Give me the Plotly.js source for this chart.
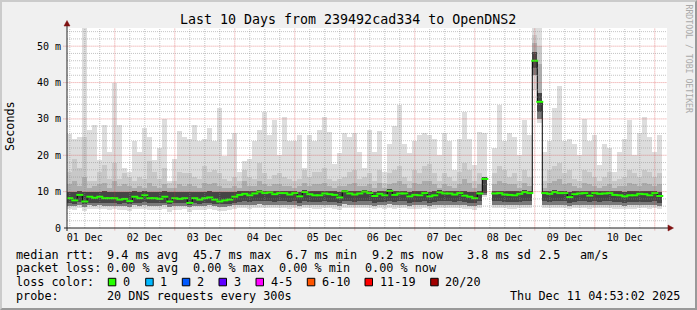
<!DOCTYPE html>
<html>
<head>
<meta charset="utf-8">
<script src="https://cdn.plot.ly/plotly-3.0.1.min.js"></script>
<style>
html,body{margin:0;padding:0;background:#f0f0f0;}
#wrap{position:relative;width:697px;height:310px;overflow:hidden;}
#chart{position:absolute;left:0;top:0;width:697px;height:310px;}
#frame{position:absolute;left:0;top:0;width:697px;height:310px;box-sizing:border-box;
  border-top:2px solid #cbcbcb;border-left:2px solid #cbcbcb;border-right:2px solid #999;border-bottom:2px solid #999;pointer-events:none;}
</style>
</head>
<body>
<div id="wrap"><div id="chart"></div><div id="frame"></div></div>
<script>
// ---------------- data (ms), 2-hour bins from 2025-12-01 06:00 ----------------
const firstBin = Date.UTC(2025, 11, 1, 6, 0, 0);
const binHours = 2;

const maxPing = [25.8,24.4,24.9,55,27,28.3,18.7,28.3,21,40,28.3,16.5,15.5,24,21,27.4,25,18.7,22,30,13,19,26.6,25,24.5,28.3,24,24.5,27.5,
 24,33,19.7,24.6,26,15.5,18.3,19,24,27,31.8,25.5,29.7,20,30.5,24,24,25.5,16.5,25.5,24,27,30.5,26.5,17.5,20.5,26,25,26,21,
 16.5,27,21,26.8,15.5,23,28,33.7,23,20.5,24,25.5,26,25.5,24.6,20,26,24,16,24.6,32,24.6,17.3,26.5,26,null,22,33.7,24,
 26,25,20,29.8,25.5,55,55,21,24,33,39,24,24.6,23,20,30,24,25.5,17.3,23,22,15.5,20.8,24.6,29.8,20,26,30.5,25,21,25.5];

const p19 = [15.5,19,16.5,25,13,13,15.5,17.3,13.5,18,13.5,15,14,13,14,13.5,18.3,15.5,13.5,16.5,12.5,13,15.5,15,15,14,13.5,17,15.5,
 16,15,13.5,13,14,13,16,14,13.5,18,15,13.5,14.5,15,14,13.5,13,13.5,16,14,15.5,15.5,16.5,13.5,13,13.5,14,15.5,16,13.5,
 14,15,13,16,12.5,15,16,17,14,13,16,15,17,17.5,15,13,15,14,13,15.5,18,16,13,15,14,null,15,17,16,
 14,15,13,16,14,53,50,13,16,17,18,15,16,13.5,13,16,15.5,14,13,14,15.5,13,13.5,14,16,15,14,16,15.5,14,15];

const p17 = [12,13,11.5,14,11,11.5,12,12.5,11,13,11.5,12,11.5,11,11.5,11,12.5,11.5,11,12,11,11,12,11.5,12,11.5,11,12.5,12,
 12.5,11.5,11,11,11.5,11,13,11.5,11.5,13,12,11.5,12,12,11.5,11.5,11,11.5,12.5,11.5,12,12,12.5,11.5,11,11.5,11.5,12,12.5,11.5,
 11.5,12,11,12.5,11,12,12.5,13,12,11,12.5,12,13,13,12,11,12,11.5,11,12,13.5,12.5,11,12,14,null,12,13,12.5,
 12,12,11,12.5,11.5,51,45,11,12.5,13,13.5,12,12.5,11.5,11,12.5,12,11.5,11,11.5,12,11,11.5,11.5,12.5,12,11.5,12.5,12,11.5,12];

const highDark = [10,9.9,10.1,10,10,9.9,10,10.1,10,9.9,10,10,9.8,10.1,10,10.1,10,9.9,10,10.1,9.8,10,9.9,10,9.8,10,9.9,10,10.1,
 10,9.8,9.9,10,10,10.1,10.2,10.1,10.2,10.4,10.2,10.3,10.1,10.2,10.2,10.1,10.2,10,10.4,10.2,10.1,10.1,10.2,10.2,10.1,10,10.5,10.2,10.1,10.2,
 10.5,10.2,10,10.2,10.1,10.6,10.1,10.2,10.2,10,10.1,10.1,10.3,10,10.1,10.4,10.2,10.2,10.1,10.3,10.1,10,9.9,10.2,14,null,10.2,10.3,10.1,
 10.1,10.1,10.2,10.4,10.3,48.5,37,10.3,10.2,10.4,10.3,10.3,10,10.2,10.2,10.3,10.1,10.3,10.2,10.2,10.3,10.1,10.1,10,10.1,10.1,10.2,10.2,10.1,10.3,10];

const medianRtt = [8.2,7.6,9.1,7.3,8.6,8.3,8.6,8.2,8.2,8.2,7.8,8.0,7.4,8.6,8.2,9.0,8.2,8.2,8.0,8.6,7.3,8.2,8.0,8.2,6.9,8.2,7.8,8.2,8.4,
 7.8,7.3,7.6,7.8,8.6,9.1,9.4,9.0,9.5,10.0,9.6,9.8,9.3,9.6,9.6,9.2,9.6,8.7,9.9,9.3,9.0,9.0,9.5,9.3,9.1,8.4,10.1,9.5,9.2,9.5,
 10.0,9.6,8.8,9.4,9.0,10.2,9.1,9.5,9.5,8.7,9.1,9.0,9.6,8.7,9.0,9.8,9.5,9.5,9.2,9.6,8.9,8.6,8.2,9.5,13.5,null,9.5,9.6,9.2,
 9.1,9.0,9.4,9.9,9.6,46.0,34.7,9.6,9.4,9.9,9.6,9.6,8.5,9.3,9.5,9.6,8.9,9.6,9.4,9.5,9.6,9.1,9.0,8.7,9.0,9.0,9.4,9.3,9.0,9.6,8.8];

const coreLow = [6.9,6.7,7.2,6.6,7,6.9,7,6.9,6.8,6.9,6.7,6.8,6.5,7,6.9,7.1,6.9,6.8,6.8,7,6.5,6.8,6.8,6.9,6.3,6.9,6.7,6.9,7,
 6.7,6.5,6.6,6.7,7,7.2,7.3,7.1,7.3,7.5,7.3,7.4,7.2,7.3,7.3,7.2,7.3,7,7.4,7.2,7.1,7.1,7.3,7.2,7.1,6.9,7.5,7.3,7.2,7.3,
 7.4,7.3,7,7.2,7.1,7.5,7.1,7.3,7.3,7,7.1,7.1,7.3,7,7.1,7.4,7.3,7.3,7.2,7.3,7.1,7,6.8,7.3,9.5,null,7.3,7.3,7.2,
 7.1,7.1,7.2,7.4,7.3,44,32,7.3,7.2,7.4,7.3,7.3,6.9,7.2,7.3,7.3,7.1,7.3,7.2,7.3,7.3,7.1,7.1,7,7.1,7.1,7.2,7.2,7.1,7.3,7];

const lowDark = [6.1,6,6.3,5.9,6.2,6.1,6.2,6.1,6,6.1,6,6,5.8,6.2,6.1,6.2,6.1,6,6,6.2,5.8,6,6,6.1,5.7,6.1,6,6.1,6.2,
 6,5.8,5.9,6,6.2,6.3,6.4,6.2,6.4,6.5,6.4,6.4,6.3,6.3,6.4,6.3,6.4,6.1,6.4,6.3,6.2,6.2,6.4,6.3,6.2,6,6.5,6.4,6.3,6.4,
 6.4,6.3,6.1,6.3,6.2,6.5,6.2,6.4,6.4,6.1,6.2,6.2,6.4,6.1,6.2,6.4,6.4,6.3,6.3,6.4,6.2,6.1,6,6.3,9,null,6.3,6.4,6.3,
 6.2,6.2,6.3,6.4,6.3,42,30,6.3,6.3,6.4,6.3,6.3,6,6.3,6.3,6.4,6.2,6.4,6.3,6.3,6.4,6.2,6.2,6.1,6.2,6.2,6.3,6.3,6.2,6.4,6.1];

const minPing = [5.2,5,5.4,4.8,5.3,5.1,5.2,5.1,4.9,5.1,5,4.9,4.6,5.2,5.1,5.3,5,5,4.9,5.2,4.5,4.9,4.9,5.1,4.4,5,4.9,5,5.2,
 4.9,4.6,4.7,4.9,5.2,5.4,5.5,5.3,5.5,5.6,5.5,5.5,5.4,5.4,5.5,5.3,5.5,5.1,5.5,5.4,5.3,5.3,5.5,5.4,5.2,5,5.6,5.5,5.4,5.5,
 5.5,5.4,5.2,5.4,5.3,5.6,5.3,5.5,5.5,5.1,5.3,5.3,5.5,5.1,5.3,5.5,5.5,5.4,5.4,5.5,5.3,5.2,5,5.4,8.5,null,5.4,5.5,5.4,
 5.3,5.3,5.4,5.5,5.4,38,29,5.4,5.4,5.5,5.4,5.4,5.1,5.4,5.4,5.5,5.3,5.5,5.4,5.4,5.5,5.3,5.3,5.2,5.3,5.3,5.4,5.4,5.3,5.5,5.2];

const dayLabels = ['01 Dec','02 Dec','03 Dec','04 Dec','05 Dec','06 Dec','07 Dec','08 Dec','09 Dec','10 Dec'];
const yTickVals = [0,10,20,30,40,50];
const yTickText = ['0','10 m','20 m','30 m','40 m','50 m'];

const titleText = 'Last 10 Days from 239492cad334 to OpenDNS2';
const statRtt = ['median rtt:','9.4 ms avg','45.7 ms max','6.7 ms min','9.2 ms now','3.8 ms sd','2.5','am/s'];
const statLoss = ['packet loss:','0.00 % avg','0.00 % max','0.00 % min','0.00 % now'];
const lossLabels = ['0','1','2','3','4-5','6-10','11-19','20/20'];
const lossColors = ['#26ff00','#00b8ff','#0059ff','#5e00ff','#ff00ff','#ff5500','#ff0000','#a10000'];
const probeText = ['probe:','20 DNS requests every 300s'];
const stampText = 'Thu Dec 11 04:53:02 2025';

// ---------------- helpers ----------------
const p2 = n => String(n).padStart(2,'0');
function fmt(ms){const d=new Date(ms);return d.getUTCFullYear()+'-'+p2(d.getUTCMonth()+1)+'-'+p2(d.getUTCDate())+' '+p2(d.getUTCHours())+':'+p2(d.getUTCMinutes())+':'+p2(d.getUTCSeconds());}
const binMs = binHours*3600000;
const binTimes = medianRtt.map((_,i)=>fmt(firstBin + i*binMs));
const tStart = Date.UTC(2025,11,1,4,53,2), tEnd = Date.UTC(2025,11,11,4,53,2);
const labelTimes = dayLabels.map((_,i)=>fmt(Date.UTC(2025,11,1+i,12,0,0)));

// plot area in pixels
const L=67, R=667, T=28, B=228;
const PX = px => (px-L)/(R-L);
const PY = py => (B-py)/(B-T);
const FONT = 'DejaVu Sans Mono, monospace';

function band(lo, hi, color){
  return {type:'bar', x:binTimes, base:lo,
    y:hi.map((h,i)=>(h==null||lo[i]==null)?null:+(h-lo[i]).toFixed(3)),
    width:binMs, marker:{color:color, line:{width:0}}, hoverinfo:'skip', showlegend:false};
}

const traces = [
  band(minPing, maxPing, '#dddddd'),
  band(lowDark, p19, '#c8c8c8'),
  band(lowDark, p17, '#acacac'),
  band(lowDark, highDark, '#7a7a7a'),
  band(coreLow, highDark, '#454545'),
  {type:'scatter', mode:'lines', x:binTimes, y:medianRtt, line:{color:'#000000', width:1, shape:'hvh'}, hoverinfo:'skip', showlegend:false},
  {type:'scatter', mode:'markers', x:binTimes, y:medianRtt,
   marker:{symbol:'line-ew', size:5, color:'#26ff00', line:{color:'#26ff00', width:2}}, hoverinfo:'skip', showlegend:false}
];

// ---------------- grid, axes, arrows (drawn above like rrdtool) ----------------
const shapes = [];
const minorCol = 'rgba(140,140,140,0.5)', majorCol = 'rgba(215,60,60,0.5)';
for (let t = Date.UTC(2025,11,1,6); t < tEnd; t += 6*3600000) {
  const major = new Date(t).getUTCHours() === 0;
  shapes.push({type:'line', layer:'above', xref:'x', yref:'paper', x0:fmt(t), x1:fmt(t), y0: major?-0.012:0, y1:1,
    line:{color: major?majorCol:minorCol, width:1, dash:'1px,1px'}});
}
for (let v = 2; v <= 54; v += 2) {
  const major = v % 10 === 0;
  shapes.push({type:'line', layer:'above', xref:'paper', yref:'y', x0: major?-0.006:0, x1:1, y0:v, y1:v,
    line:{color: major?majorCol:minorCol, width:1, dash:'1px,1px'}});
}
// axes
shapes.push({type:'line', layer:'above', xref:'paper', yref:'paper', x0:PX(64), x1:PX(669), y0:0, y1:0, line:{color:'#222', width:1}});
shapes.push({type:'line', layer:'above', xref:'paper', yref:'paper', x0:0, x1:0, y0:PY(231), y1:PY(25), line:{color:'#222', width:1}});
// arrows
shapes.push({type:'path', layer:'above', xref:'paper', yref:'paper',
  path:`M ${PX(668)} ${PY(225)} L ${PX(673.5)} ${PY(228)} L ${PX(668)} ${PY(231)} Z`, fillcolor:'#7f1010', line:{color:'#7f1010', width:0.5}});
shapes.push({type:'path', layer:'above', xref:'paper', yref:'paper',
  path:`M ${PX(64)} ${PY(26)} L ${PX(67)} ${PY(20.5)} L ${PX(70)} ${PY(26)} Z`, fillcolor:'#7f1010', line:{color:'#7f1010', width:0.5}});

// ---------------- texts ----------------
const ann = [];
function txt(text, px, py, size, opts){
  ann.push(Object.assign({text:text, xref:'paper', yref:'paper', x:PX(px), y:PY(py), showarrow:false,
    xanchor:'left', yanchor:'middle', borderpad:0, borderwidth:0,
    font:{family:FONT, size:size, color:'#000'}}, opts||{}));
}
txt(titleText, 347.5, 19.5, 13.3, {xanchor:'center'});
txt('Seconds', 10, 126, 11.8, {xanchor:'center', textangle:-90});
txt('RRDTOOL / TOBI OETIKER', 688.5, 59, 8.2, {xanchor:'center', textangle:90, font:{family:FONT, size:8.2, color:'#a9a9a9'}});

const rttX = [16,107.3,193.3,286,372.3,467,539,580];
statRtt.forEach((s,i)=>txt(s, rttX[i], 254.5, 11.8));
const lossX = [16,107.3,193.3,279.3,365];
statLoss.forEach((s,i)=>txt(s, lossX[i], 268, 11.8));
txt('loss color:', 16, 282, 11.8);
const boxX = [108.3,145.7,182.3,219,256,307.3,365,430.7];
lossLabels.forEach((s,i)=>{
  shapes.push({type:'rect', layer:'above', xref:'paper', yref:'paper',
    x0:PX(boxX[i]), x1:PX(boxX[i]+7.5), y0:PY(278.3), y1:PY(285.8), fillcolor:lossColors[i], line:{color:'#000', width:1}});
  txt(s, boxX[i]+14.5, 282, 11.8);
});
txt(probeText[0], 16, 296, 11.8);
txt(probeText[1], 107.3, 296, 11.8);
txt(stampText, 680, 296, 11.8, {xanchor:'right'});

const layout = {
  width:697, height:310,
  margin:{l:L, r:697-R, t:T, b:310-B, pad:0},
  paper_bgcolor:'#f0f0f0', plot_bgcolor:'#ffffff',
  barmode:'overlay', bargap:0, showlegend:false,
  xaxis:{type:'date', range:[fmt(tStart), fmt(tEnd)], showgrid:false, zeroline:false, showline:false,
    tickmode:'array', tickvals:labelTimes, ticktext:dayLabels, ticks:'', ticklabelstandoff:2,
    tickfont:{family:FONT, size:10, color:'#000'}, fixedrange:true},
  yaxis:{range:[0,55], showgrid:false, zeroline:false, showline:false,
    tickmode:'array', tickvals:yTickVals, ticktext:yTickText, ticks:'', ticklabelstandoff:5,
    tickfont:{family:FONT, size:10, color:'#000'}, fixedrange:true},
  shapes:shapes, annotations:ann
};

Plotly.newPlot('chart', traces, layout, {displayModeBar:false, staticPlot:true});
</script>
</body>
</html>
